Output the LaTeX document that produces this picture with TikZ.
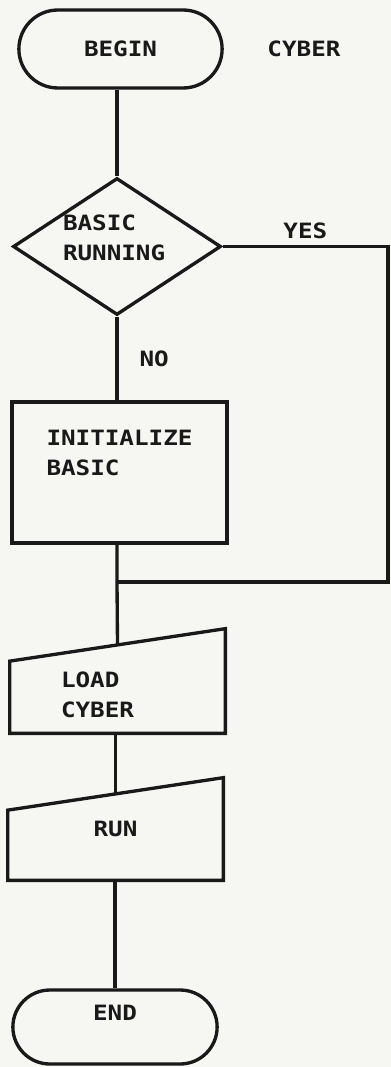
\documentclass[tikz,border=0pt]{standalone}
\usepackage{fontspec}
\newfontfamily\leroy[FakeStretch=1.15]{DejaVu Sans Mono Bold}
\usetikzlibrary{positioning, shapes.geometric, shapes.misc, calc}
\definecolor{paper}{RGB}{246,246,243}

\begin{document}
\begin{tikzpicture}[
    x=0.02cm, y=-0.02cm,
    % Styles
    flow/.style={draw=black!90, line width=1.9pt},
    lettering/.style={font=\leroy\fontsize{12pt}{17pt}\selectfont, text=black!90, text height=8.75pt},
    terminal/.style={flow, lettering, rounded rectangle, minimum height=1.56cm, minimum width=4.3cm},
    decision/.style={flow, lettering, diamond, aspect=1.52, inner sep=0pt, minimum width=4.16cm, minimum height=2.74cm, text width=2.16cm, align=left},
    process/.style={flow, lettering, rectangle, minimum width=4.3cm, minimum height=2.82cm, align=left},
    manual/.style={lettering, rectangle, minimum width=4.3cm, align=left}
    ]

    % Paper
    \path[fill=paper, use as bounding box] (0,0) rectangle (391,1067);

    % 1. Begin
    \node (start) [terminal] at (120.5,49) {BEGIN};
    \node (cyber) [lettering, right=0.75cm of start] {CYBER};

    % 2. Test and initialisation
    \node (test) [decision, text depth=26.75pt] at (117,246.5) {BASIC\\RUNNING};
    \node (init) [process, text width=2.92cm, text depth=39pt] at (119.5,472.5) {INITIALIZE\\BASIC};

    % 3. Manual input steps
    \node (load) [manual, minimum height=2.08cm, text width=2.26cm, text depth=1.2pt] at (117.5,681) {LOAD\\CYBER};
    \node (run) [manual, minimum height=2.04cm] at (115.5,829) {RUN};

    % Slanted top edges
    \foreach \nm in {load, run} {
        \draw[flow] (\nm.north east) -- (\nm.south east) -- (\nm.south west) -- ([yshift=-0.65cm]\nm.north west) -- cycle;
        \coordinate (\nm-top) at ($(\nm.north east)!0.5!([yshift=-0.65cm]\nm.north west)$);
    }

    % 4. End
    \node (finish) [terminal, minimum height=1.48cm, minimum width=4.32cm, text depth=16pt] at (115,1027) {END};

    % Connections
    \coordinate (bend) at (388,582);
    \coordinate (join) at (117,582);
    \draw[flow] (test.north |- start.south) -- (test.north);
    \draw[flow] (test.south) -- (test.south |- init.north) node[midway, right=0.3cm, lettering] {NO};
    \draw[flow] (test.east) -| (bend) node[pos=0.25, above, lettering] {YES} -- (join);
    \draw[flow] (init.south -| join) -- (join) -- (load-top);
    \draw[flow] (run-top |- load.south) -- (run-top);
    \draw[flow] (run.south -| finish.north) -- (finish.north);
\end{tikzpicture}
\end{document}
